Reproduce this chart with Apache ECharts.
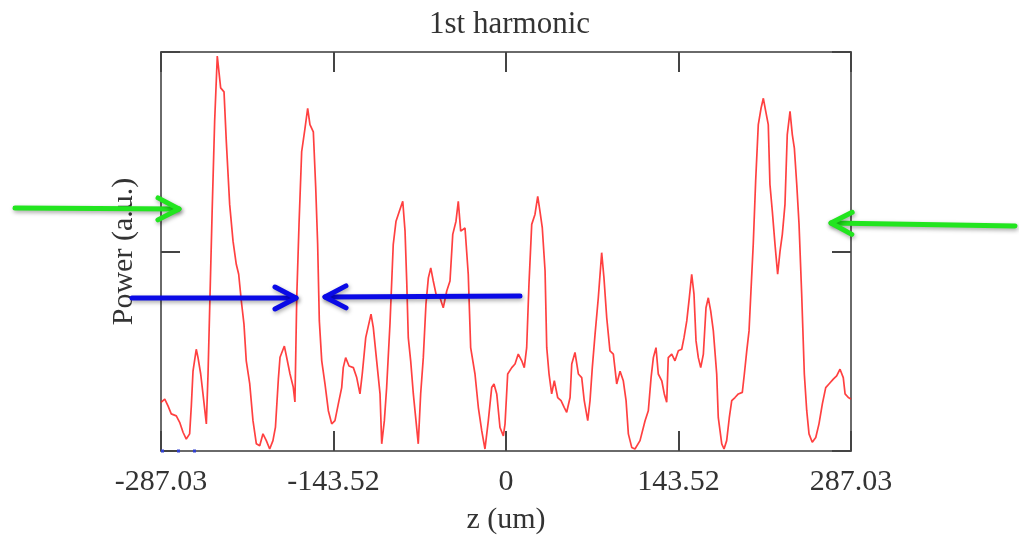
<!DOCTYPE html>
<html>
<head>
<meta charset="utf-8">
<script src="https://cdn.jsdelivr.net/npm/echarts@6/dist/echarts.min.js"></script>
<style>html,body{margin:0;padding:0;background:#fff}#c{width:1019px;height:540px}</style>
</head>
<body>
<div id="c"></div>
<script>
const titleText = '1st harmonic';
const xName = 'z (um)';
const yName = 'Power (a.u.)';
const xTickLabels = ['-287.03', '-143.52', '0', '143.52', '287.03'];
const zMin = -287.03, zMax = 287.03, zStep = 143.515;

const zUm = [
-287.0,-283.9,-281.2,-278.5,-274.3,-271.5,-268.7,-266.0,-263.2,-261.8,-260.4,-257.7,-256.3,-254.0,-252.1,-249.3,-247.9,-246.5,-244.4,-242.4,-240.2,-238.8,-237.4,-234.6,-232.7,-229.9,-227.1,-224.4,-222.4,-220.2,-218.0,-216.1,-213.2,-210.5,-207.7,-204.9,-202.2,-199.4,-196.6,-193.9,-191.8,-189.4,-188.0,-184.4,-182.5,-179.7,-177.0,-175.6,-174.1,-172.2,-170.0,-167.2,-165.0,-163.1,-160.3,-158.3,-156.7,-155.3,-153.3,-150.6,-147.8,-145.0,-142.3,-139.5,-136.7,-135.4,-133.4,-130.6,-127.0,-124.2,-121.5,-119.6,-116.7,-112.3,-110.4,-107.6,-104.8,-103.4,-101.2,-99.3,-96.5,-93.8,-91.5,-88.8,-85.9,-84.0,-82.6,-81.3,-79.3,-77.1,-74.9,-73.0,-71.0,-68.8,-66.6,-64.6,-62.6,-60.5,-58.2,-54.9,-52.2,-49.3,-46.6,-44.3,-41.6,-39.7,-37.7,-34.1,-31.4,-29.4,-25.8,-23.0,-20.2,-17.5,-14.7,-11.9,-10.0,-7.7,-5.0,-2.2,-0.8,1.4,4.8,7.5,10.2,13.1,15.2,17.2,19.1,21.4,24.1,26.4,28.3,30.2,32.5,33.9,35.8,38.0,40.2,43.0,45.8,48.5,50.5,53.3,54.7,57.4,60.2,63.0,65.1,68.0,69.9,71.8,74.1,76.8,79.6,81.5,83.8,86.5,89.3,92.1,94.9,97.6,99.9,101.8,104.6,107.3,111.5,115.7,118.4,120.7,122.6,124.8,126.7,129.6,131.7,133.7,135.0,137.9,140.6,143.4,146.2,148.1,150.4,152.5,154.5,156.4,158.1,160.0,162.0,164.2,166.4,168.3,170.3,172.5,175.3,176.6,179.5,181.4,183.6,185.8,187.8,190.5,193.3,196.6,198.3,200.3,202.2,203.8,205.7,207.7,209.9,212.2,214.1,216.1,218.2,219.6,221.6,223.8,226.0,228.0,229.9,232.1,234.0,236.3,238.2,239.9,241.9,243.8,246.0,248.2,250.2,252.1,254.8,257.7,260.4,263.2,266.0,268.7,272.3,275.1,277.9,280.6,282.1,284.8,287.0
];
const power = [
0.122,0.130,0.113,0.093,0.088,0.072,0.047,0.030,0.043,0.113,0.200,0.255,0.235,0.193,0.143,0.068,0.193,0.360,0.610,0.826,0.990,0.990,0.910,0.900,0.776,0.618,0.526,0.468,0.443,0.376,0.318,0.226,0.168,0.076,0.018,0.013,0.043,0.026,0.005,0.026,0.060,0.180,0.235,0.263,0.235,0.193,0.160,0.123,0.384,0.568,0.750,0.809,0.859,0.818,0.800,0.659,0.518,0.326,0.226,0.168,0.101,0.068,0.076,0.118,0.159,0.209,0.234,0.213,0.209,0.184,0.143,0.193,0.284,0.343,0.309,0.226,0.143,0.018,0.076,0.159,0.320,0.518,0.576,0.600,0.626,0.551,0.426,0.284,0.226,0.143,0.076,0.018,0.143,0.234,0.368,0.434,0.459,0.426,0.393,0.384,0.359,0.401,0.426,0.543,0.576,0.626,0.551,0.559,0.443,0.259,0.193,0.109,0.051,0.005,0.076,0.159,0.168,0.143,0.059,0.038,0.068,0.193,0.209,0.218,0.243,0.226,0.209,0.259,0.418,0.568,0.593,0.638,0.600,0.559,0.451,0.259,0.193,0.143,0.176,0.134,0.126,0.109,0.097,0.134,0.218,0.247,0.193,0.184,0.126,0.076,0.126,0.209,0.293,0.384,0.497,0.434,0.334,0.251,0.243,0.168,0.200,0.176,0.126,0.043,0.009,0.005,0.026,0.076,0.101,0.184,0.234,0.259,0.193,0.176,0.143,0.122,0.234,0.243,0.226,0.251,0.255,0.284,0.326,0.384,0.443,0.393,0.276,0.234,0.209,0.243,0.359,0.384,0.351,0.301,0.193,0.084,0.018,0.005,0.026,0.084,0.126,0.134,0.143,0.147,0.193,0.251,0.301,0.401,0.518,0.676,0.818,0.859,0.884,0.851,0.818,0.668,0.600,0.518,0.443,0.501,0.543,0.618,0.793,0.851,0.793,0.759,0.668,0.568,0.393,0.193,0.101,0.043,0.022,0.034,0.068,0.118,0.159,0.168,0.180,0.188,0.205,0.184,0.143,0.134,0.130
];
const baseZ = [-287.03, -255.0];
const baseP = [0, 0];

const serif = '"Liberation Serif","DejaVu Serif",serif';
const axisCol = '#6a6a6a';
const textCol = '#333';

const chart = echarts.init(document.getElementById('c'), null, {renderer: 'canvas'});

function arrow(x1, y1, x2, y2, color) {
  const dx = x2 - x1, dy = y2 - y1, len = Math.hypot(dx, dy);
  const ux = dx / len, uy = dy / len;
  const back = 21, side = 11;
  const a1 = [x2 - ux * back - uy * side, y2 - uy * back + ux * side];
  const a2 = [x2 - ux * back + uy * side, y2 - uy * back - ux * side];
  const style = {stroke: color, lineWidth: 5, fill: null, lineCap: 'round', lineJoin: 'round',
    shadowBlur: 4, shadowColor: 'rgba(0,0,0,0.35)', shadowOffsetX: 1, shadowOffsetY: 2};
  return [
    {type: 'polyline', z: 100, shape: {points: [[x1, y1], [x2, y2]]}, style: style},
    {type: 'polyline', z: 100, shape: {points: [a1, [x2, y2], a2]}, style: style}
  ];
}

const green = '#22e51f', blue = '#0a0ae6';
const graphics = [].concat(
  arrow(15, 208, 179, 209, green),
  arrow(1015, 226, 831, 223, green),
  arrow(132, 298, 296, 298, blue),
  arrow(520, 296, 325, 297, blue)
);

const xCommon = {
  type: 'value', min: zMin, max: zMax, interval: zStep,
  axisLine: {show: true, onZero: false, lineStyle: {color: axisCol, width: 2}},
  axisTick: {show: true, inside: true, length: 20, lineStyle: {color: '#444', width: 2}},
  splitLine: {show: false}
};
const yCommon = {
  type: 'value', min: 0, max: 1, interval: 0.5,
  axisLine: {show: true, onZero: false, lineStyle: {color: axisCol, width: 2}},
  axisTick: {show: true, inside: true, length: 19, lineStyle: {color: '#444', width: 2}},
  splitLine: {show: false},
  axisLabel: {show: false}
};

chart.setOption({
  animation: false,
  backgroundColor: '#fff',
  title: {text: titleText, left: 'center', top: 4,
    textStyle: {fontFamily: serif, fontSize: 31, fontWeight: 'normal', color: textCol}},
  grid: {left: 161, right: 168, top: 52, bottom: 88, containLabel: false},
  xAxis: [
    Object.assign({}, xCommon, {
      position: 'bottom',
      name: xName, nameLocation: 'middle', nameGap: 54,
      nameTextStyle: {fontFamily: serif, fontSize: 30, color: textCol},
      axisLabel: {show: true, margin: 16, fontFamily: serif, fontSize: 30, color: textCol,
        formatter: function (v) { return xTickLabels[Math.round((v - zMin) / zStep)]; }}
    }),
    Object.assign({}, xCommon, {position: 'top', axisLabel: {show: false}})
  ],
  yAxis: [
    Object.assign({}, yCommon, {
      position: 'left',
      name: yName, nameLocation: 'middle', nameGap: 22,
      nameTextStyle: {fontFamily: serif, fontSize: 30, color: textCol}
    }),
    Object.assign({}, yCommon, {position: 'right'})
  ],
  series: [
    {
      type: 'line', xAxisIndex: 0, yAxisIndex: 0,
      data: zUm.map((z, i) => [z, power[i]]),
      showSymbol: false, clip: true,
      lineStyle: {color: 'rgba(255,30,30,0.85)', width: 1.7},
      z: 3
    },
    {
      type: 'line', xAxisIndex: 0, yAxisIndex: 0,
      data: baseZ.map((z, i) => [z, baseP[i]]),
      showSymbol: false, clip: false,
      lineStyle: {color: '#3040d0', width: 3, type: [3, 13]},
      z: 2
    }
  ],
  graphic: graphics
});
</script>
</body>
</html>
